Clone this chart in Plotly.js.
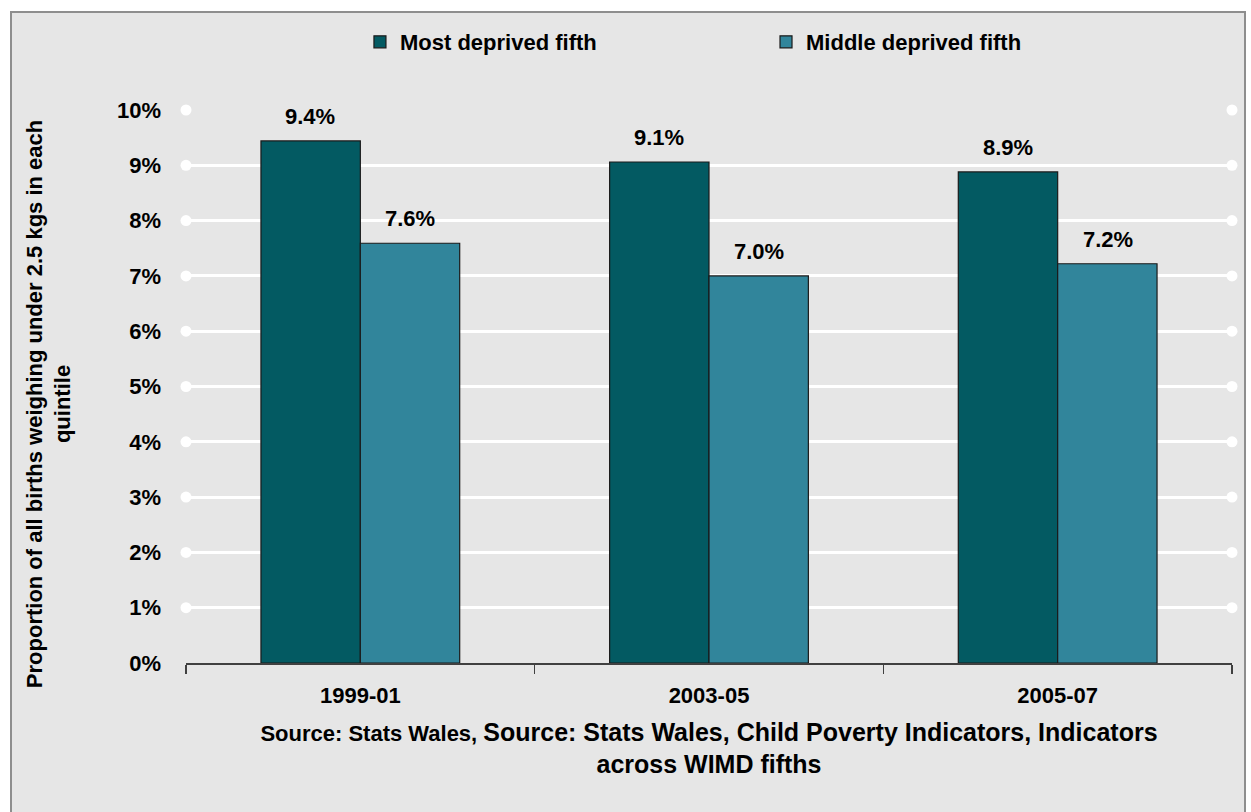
<!DOCTYPE html>
<html>
<head>
<meta charset="utf-8">
<script src="https://cdn.plot.ly/plotly-3.0.1.min.js"></script>
<style>
  html, body { margin: 0; padding: 0; background: #ffffff; }
  #frame {
    position: absolute; left: 10px; top: 11px;
    width: 1232px; height: 812px;
    border-left: 2px solid #8e8e8e; border-top: 2px solid #8e8e8e; border-right: 2px solid #8e8e8e;
    background: #e6e6e6;
  }
  #chart { width: 1232px; height: 799px; }
</style>
</head>
<body>
<div id="frame"><div id="chart"></div></div>
<script>
const categories = ["1999-01", "2003-05", "2005-07"];
const seriesNames = ["Most deprived fifth", "Middle deprived fifth"];
const mostDeprived = [9.44, 9.06, 8.88];
const middleDeprived = [7.59, 7.0, 7.22];
const mostLabels = ["9.4%", "9.1%", "8.9%"];
const middleLabels = ["7.6%", "7.0%", "7.2%"];
const yTickVals = [0, 1, 2, 3, 4, 5, 6, 7, 8, 9, 10];
const yTickText = ["0%", "1%", "2%", "3%", "4%", "5%", "6%", "7%", "8%", "9%", "10%"];
const yTitle = "Proportion of all births weighing under 2.5 kgs in each<br>quintile";
const xTitle = "<span style='font-size:22px'>Source: Stats Wales, </span>Source: Stats Wales, Child Poverty Indicators, Indicators<br>across WIMD fifths";

const FONT = "'Liberation Sans', Arial, sans-serif";
const f = (size) => ({ family: FONT, size: size, color: "#000", weight: "bold" });

const gridY = yTickVals.filter(v => v > 0);
const dotX = [], dotY = [];
gridY.forEach(v => { dotX.push(0, 1); dotY.push(v, v); });

const traces = [
  {
    type: "bar", name: seriesNames[0], x: categories, y: mostDeprived,
    marker: { color: "#035a62", line: { color: "#1a1a1a", width: 1.2 } },
    legend: "legend", hoverinfo: "skip"
  },
  {
    type: "bar", name: seriesNames[1], x: categories, y: middleDeprived,
    marker: { color: "#31859b", line: { color: "#1a1a1a", width: 1.2 } },
    legend: "legend2", hoverinfo: "skip"
  },
  {
    type: "scatter", mode: "markers", x: dotX, y: dotY, xaxis: "x2", yaxis: "y",
    marker: { color: "#ffffff", size: 11 }, showlegend: false, cliponaxis: false,
    hoverinfo: "skip"
  }
];

// value labels placed at each bar's data position
const barHalf = 50;
const annotations = [];
categories.forEach((c, i) => {
  annotations.push({ x: c, y: mostDeprived[i], text: mostLabels[i], xref: "x", yref: "y",
    showarrow: false, yanchor: "bottom", xanchor: "center", xshift: -barHalf, yshift: 10, font: f(22) });
  annotations.push({ x: c, y: middleDeprived[i], text: middleLabels[i], xref: "x", yref: "y",
    showarrow: false, yanchor: "bottom", xanchor: "center", xshift: barHalf, yshift: 10, font: f(22) });
});
// y-axis title
annotations.push({ text: yTitle, xref: "paper", yref: "paper", x: -0.131, y: 0.468,
  xanchor: "center", yanchor: "middle", textangle: -90, showarrow: false, font: f(22) });

const legendBase = {
  orientation: "h", yref: "container", y: 0.9637, yanchor: "middle", xanchor: "left",
  bgcolor: "rgba(0,0,0,0)", font: f(22)
};

const layout = {
  width: 1232, height: 799,
  margin: { l: 174, r: 12, t: 97, b: 149, autoexpand: false },
  paper_bgcolor: "#e6e6e6", plot_bgcolor: "#e6e6e6",
  font: f(22),
  barmode: "group", bargap: 0.43, bargroupgap: 0,
  showlegend: true,
  legend: Object.assign({}, legendBase, { x: 0.1663 }),
  legend2: Object.assign({}, legendBase, { x: 0.5545 }),
  annotations: annotations,
  xaxis: {
    type: "category", domain: [0, 1],
    showgrid: false, showline: true, linecolor: "#404040", linewidth: 1.5,
    ticks: "outside", tickson: "boundaries", ticklen: 9, tickcolor: "#404040", tickwidth: 1.5,
    ticklabelstandoff: 12,
    tickfont: f(22),
    title: { text: xTitle, font: f(25), standoff: 16 },
    fixedrange: true
  },
  xaxis2: {
    overlaying: "x", range: [0, 1], visible: false, fixedrange: true
  },
  yaxis: {
    range: [0, 10], tickvals: yTickVals, ticktext: yTickText,
    showgrid: true, gridcolor: "#ffffff", gridwidth: 3,
    zeroline: false, showline: false, ticks: "",
    ticklabelstandoff: 24,
    tickfont: f(22),
    fixedrange: true
  }
};

Plotly.newPlot("chart", traces, layout, { displayModeBar: false, staticPlot: true });
</script>
</body>
</html>
